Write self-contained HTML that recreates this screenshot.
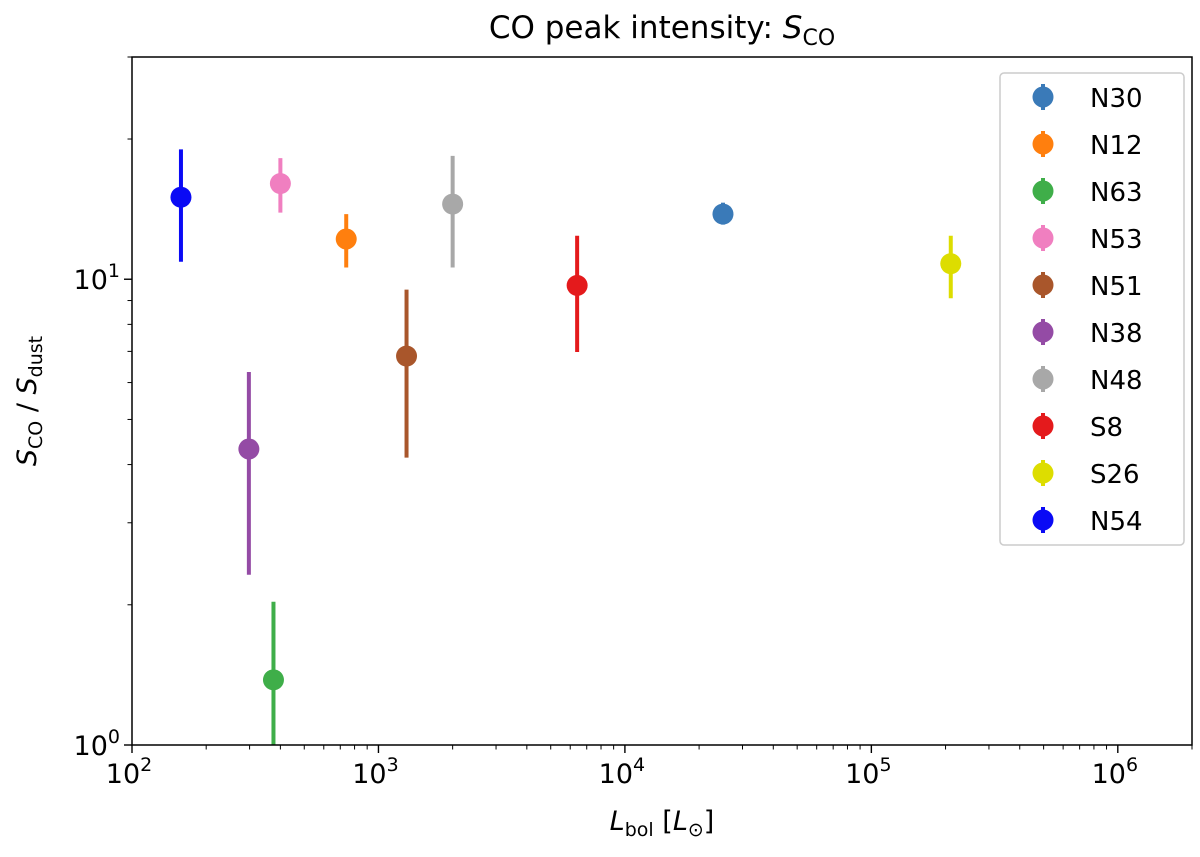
<!DOCTYPE html>
<html><head><meta charset="utf-8"><style>
body{margin:0;background:#fff;font-family:"Liberation Sans","DejaVu Sans",sans-serif}
svg text{font-family:"DejaVu Sans","Liberation Sans",sans-serif;fill:#000}
</style></head><body>
<svg id="chart" width="1200" height="852" xmlns="http://www.w3.org/2000/svg"></svg>
<script>
const names=["N30","N12","N63","N53","N51","N38","N48","S8","S26","N54"];
const colors=["#3a7ab8","#ff7f0e","#3fae49","#f07fc0","#a9562b","#944ba5","#a8a8a8","#e41a1c","#dddd00","#0a0af5"];
const xVals=[25000,740,375,400,1300,298,2000,6400,210000,158];
const yVals=[13.8,12.2,1.38,16.05,6.84,4.32,14.5,9.7,10.8,15.0];
const yHi=[14.6,13.8,2.03,18.2,9.5,6.32,18.4,12.4,12.4,19.0];
const yLo=[13.1,10.6,0.8,13.9,4.14,2.32,10.6,6.98,9.1,10.9];
const xTickLabels=["2","3","4","5","6"];
const L=132,R=1192,T=57,B=745;
const xmin=2,xmax=Math.log10(2e6),ymin=0,ymax=Math.log10(30);
const X=v=>L+(Math.log10(v)-xmin)/(xmax-xmin)*(R-L);
const Y=v=>{v=Math.max(v,1e-9);let y=B-(Math.log10(v)-ymin)/(ymax-ymin)*(B-T);return Math.min(y,B);};
const svg=document.getElementById('chart');const NS="http://www.w3.org/2000/svg";
function mk(t,a,p){const e=document.createElementNS(NS,t);for(const k in a)e.setAttribute(k,a[k]);(p||svg).appendChild(e);return e;}
const defs=mk('defs',{});const cp=mk('clipPath',{id:'c'},defs);mk('rect',{x:L,y:T,width:R-L,height:B-T},cp);
const g=mk('g',{'clip-path':'url(#c)'});


const fr=mk('rect',{x:L,y:T,width:R-L,height:B-T,fill:'none',stroke:'#000','stroke-width':1.5});


for(let d=2;d<=6;d++){
  for(let m=1;m<10;m++){const v=m*Math.pow(10,d);if(Math.log10(v)>xmax)break;const x=X(v);const len=m==1?8:4.5;
    mk('line',{x1:x,x2:x,y1:B,y2:B+len,stroke:'#000','stroke-width':m==1?1.4:1});}
  const t=mk('text',{x:X(Math.pow(10,d))-3,y:B+38,'font-size':27,'text-anchor':'middle'});
  
  
  t.innerHTML='10<tspan dy="-12" font-size="19">'+xTickLabels[d-2]+'</tspan>';
}
for(let m=1;m<=30;m++){let v=m;if(m>=10&&m%10)continue;
  const y=Y(v);const major=(v==1||v==10);mk('line',{x1:L,x2:L-(major?8:4.5),y1:y,y2:y,stroke:'#000','stroke-width':major?1.4:1});}
[1,10].forEach((v,i)=>{const t=mk('text',{x:L-12,y:Y(v)+10,'font-size':27,'text-anchor':'end'});
  
  
  t.innerHTML='10<tspan dy="-12" font-size="19">'+i+'</tspan>';});
for(let i=0;i<names.length;i++){
  const x=X(xVals[i]);
  const eb=mk('line',{x1:x,x2:x,y1:Y(yHi[i]),y2:Y(yLo[i]),stroke:colors[i],'stroke-width':4},g);
  
  
  const c=mk('circle',{cx:x,cy:Y(yVals[i]),r:10.5,fill:colors[i]},g);
  
  
}
const lg=mk('g',{});


mk('rect',{x:1000,y:73,width:184,height:472,rx:4,fill:'#fff',stroke:'#ccc','stroke-width':1.5},lg);
for(let i=0;i<names.length;i++){const y=97+i*47;
  const e=mk('g',{},lg);
  
  
  mk('line',{x1:1043,x2:1043,y1:y-13,y2:y+13,stroke:colors[i],'stroke-width':4},e);
  mk('circle',{cx:1043,cy:y,r:10.5,fill:colors[i]},e);
  const t=mk('text',{x:1090,y:y+10,'font-size':26},e);t.textContent=names[i];}
const tt=mk('text',{x:662,y:38,'font-size':31,'text-anchor':'middle'});


tt.innerHTML='CO peak intensity: <tspan font-style="italic">S</tspan><tspan dy="7" font-size="22">CO</tspan>';
const xt=mk('text',{x:662,y:830,'font-size':27,'text-anchor':'middle'});


xt.innerHTML='<tspan font-style="italic">L</tspan><tspan dy="6" font-size="19">bol</tspan><tspan dy="-6"> [</tspan><tspan font-style="italic">L</tspan><tspan dy="6" font-size="19">⊙</tspan><tspan dy="-6">]</tspan>';
const yt=mk('text',{x:0,y:0,'font-size':27,'text-anchor':'middle',transform:'translate(36,401) rotate(-90)'});


yt.innerHTML='<tspan font-style="italic">S</tspan><tspan dy="6" font-size="19">CO</tspan><tspan dy="-6"> / </tspan><tspan font-style="italic">S</tspan><tspan dy="6" font-size="19">dust</tspan>';
</script>
</body></html>
